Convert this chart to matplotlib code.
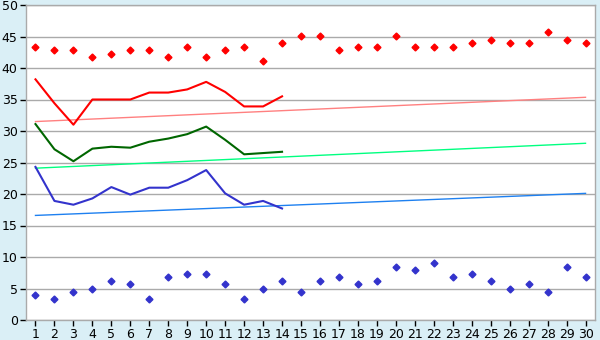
import matplotlib.pyplot as plt

days = list(range(1, 31))
line_days = list(range(1, 15))

# scattered points (upper red, lower blue)
red_pts = [43.3, 42.8, 42.8, 41.7, 42.2, 42.8, 42.8, 41.7, 43.3, 41.7,
           42.8, 43.3, 41.1, 43.9, 45.1, 45.1, 42.8, 43.3, 43.3, 45.1,
           43.3, 43.3, 43.3, 43.9, 44.4, 43.9, 43.9, 45.7, 44.4, 43.9]
blue_pts = [3.9, 3.3, 4.4, 5.0, 6.2, 5.7, 3.3, 6.8, 7.3, 7.3,
            5.7, 3.3, 5.0, 6.2, 4.4, 6.2, 6.8, 5.7, 6.2, 8.4,
            7.9, 9.0, 6.8, 7.3, 6.2, 5.0, 5.7, 4.4, 8.4, 6.8]

# lines, days 1-14
red_line = [38.2, 34.4, 31.0, 35.0, 35.0, 35.0, 36.1, 36.1, 36.6, 37.8, 36.2, 33.9, 33.9, 35.5]
green_line = [31.1, 27.1, 25.2, 27.2, 27.5, 27.35, 28.3, 28.8, 29.5, 30.7, 28.6, 26.3, 26.5, 26.7]
blue_line = [24.3, 18.9, 18.3, 19.3, 21.1, 19.9, 21.0, 21.0, 22.2, 23.8, 20.1, 18.3, 18.9, 17.7]

# trend lines: value at day 1 and day 30
red_trend = [31.5, 35.35]
green_trend = [24.1, 28.05]
blue_trend = [16.6, 20.1]

bg = '#DAEFF6'
fig = plt.figure(figsize=(6, 3.4), dpi=100, facecolor=bg)
ax = fig.add_axes([26 / 600, 20 / 340, 569 / 600, 315 / 340])
ax.set_facecolor('white')

ax.set_xlim(0.5, 30.5)
ax.set_ylim(0, 50)
ax.set_yticks(range(0, 51, 5))
ax.set_xticks(days)
ax.yaxis.grid(True, color='#AAAAAA', linewidth=1.0)
ax.set_axisbelow(True)
for s in ax.spines.values():
    s.set_color('#AAAAAA')
    s.set_linewidth(1.0)

ax.tick_params(axis='both', colors='black', labelsize=9, length=4, width=1)
ax.tick_params(axis='y', pad=2)
ax.tick_params(axis='x', pad=2)

ends = [days[0], days[-1]]
ax.plot(ends, red_trend, color='#FF8080', lw=1.0)
ax.plot(ends, green_trend, color='#00FF80', lw=1.0)
ax.plot(ends, blue_trend, color='#1E80F0', lw=1.0)

ax.plot(line_days, red_line, color='#FF0000', lw=1.5)
ax.plot(line_days, green_line, color='#006600', lw=1.5)
ax.plot(line_days, blue_line, color='#3333CC', lw=1.5)

ax.plot(days, red_pts, 'D', color='#FF0000', ms=3.5, ls='none')
ax.plot(days, blue_pts, 'D', color='#3333CC', ms=3.5, ls='none')

fig.savefig('out.png', dpi=100, facecolor=bg)
